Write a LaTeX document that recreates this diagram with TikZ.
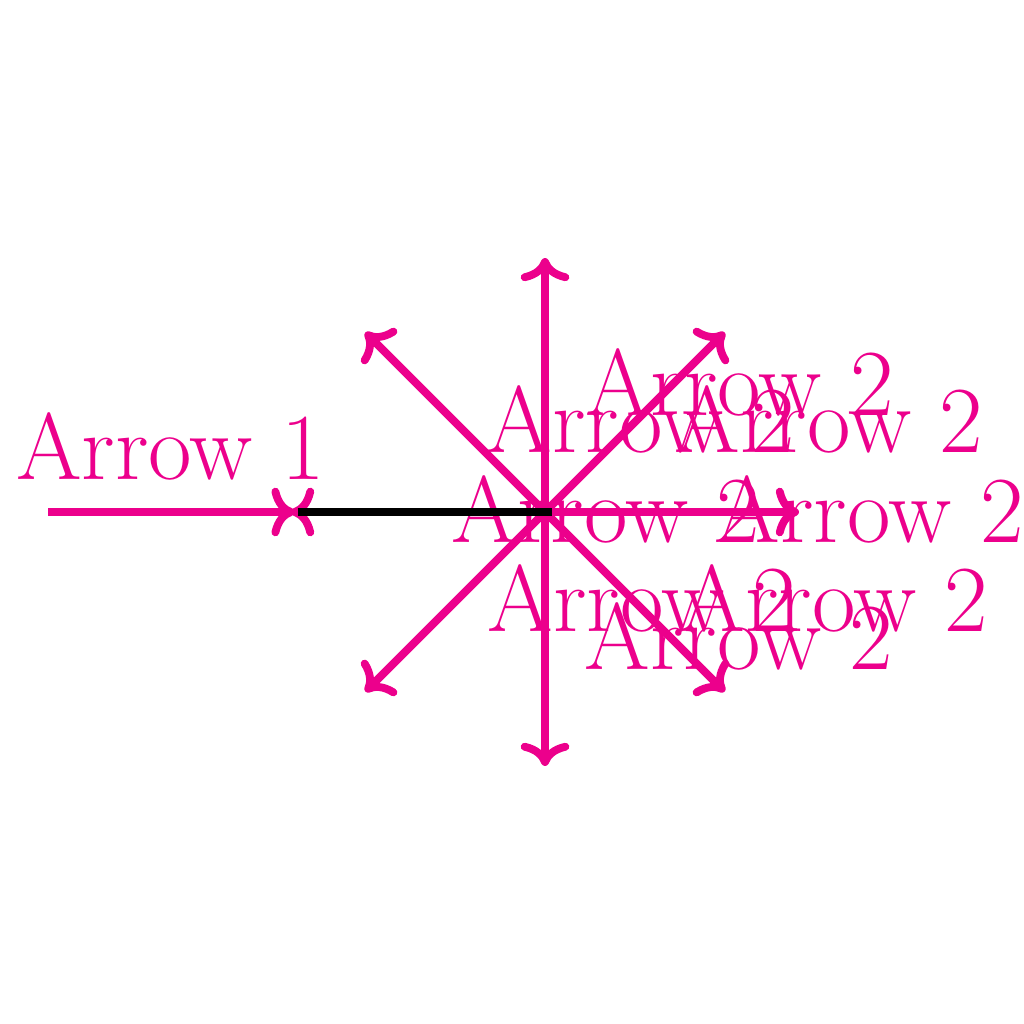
\documentclass[tikz,border=0pt]{standalone}
\usetikzlibrary{arrows.meta}
\definecolor{pinkm}{HTML}{EC008C}
\begin{document}
\begin{tikzpicture}[
  arr/.style={draw=pinkm, line width=4.4pt, -{To[scale=1.15]}},
  lbl/.style={text=pinkm, font=\fontsize{53}{63}\selectfont, inner sep=0pt, anchor=center},
  blk/.style={draw=black, line width=4.4pt},
]
\useasboundingbox (-10.73,-10.08) rectangle (9.43,10.08);
\coordinate (O) at (0,0);
\coordinate (s1) at (-9.78,0);
\coordinate (t1) at (-4.93,0);
\coordinate (bs) at (-4.87,0);
\coordinate (be) at (0.13,0);
\foreach \ang/\nm in {0/E,45/NE,90/N,135/NW,180/W,225/SW,270/S,315/SE}
  \coordinate (\nm) at (\ang:5);
\draw[arr] (s1) -- (t1);
\node[lbl] (L1) at (-7.37,1.29) {Arrow 1};
\foreach \nm in {E,NE,N,NW,W,SW,S,SE}
  \draw[arr] (O) -- (\nm);
\node[lbl] (La) at (3.83,2.56) {Arrow 2};
\node[lbl] (Lb) at (1.89,1.83) {Arrow 2};
\node[lbl] (Lc) at (5.59,1.83) {Arrow 2};
\node[lbl] (Ld) at (1.2,0.06) {Arrow 2};
\node[lbl] (Le) at (6.38,0.06) {Arrow 2};
\node[lbl] (Lf) at (1.91,-1.71) {Arrow 2};
\node[lbl] (Lg) at (5.69,-1.71) {Arrow 2};
\node[lbl] (Lh) at (3.82,-2.44) {Arrow 2};
\draw[blk] (bs) -- (be);
\end{tikzpicture}
\end{document}
